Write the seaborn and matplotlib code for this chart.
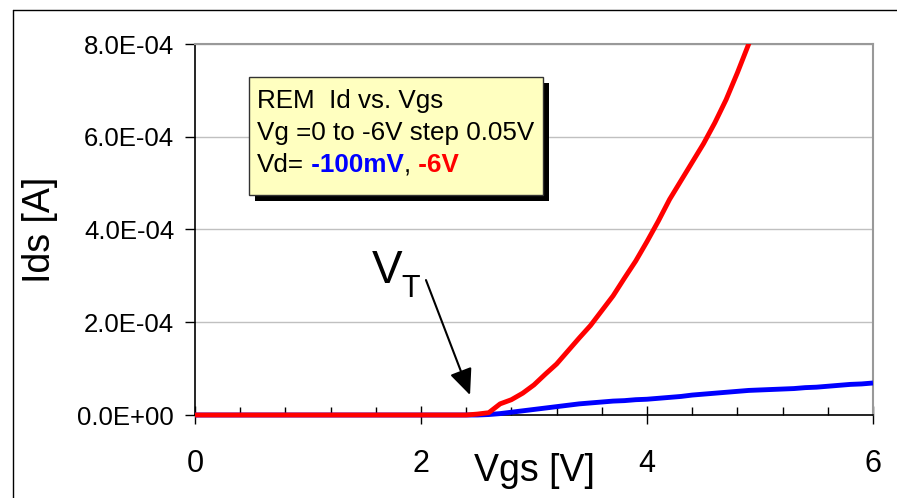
import matplotlib
matplotlib.use("Agg")
import matplotlib.pyplot as plt
import pandas as pd
import seaborn as sns
from matplotlib.ticker import MultipleLocator, FuncFormatter
from matplotlib.patches import Rectangle
from matplotlib.lines import Line2D
from matplotlib.text import Annotation

# Gate sweep (V) and drain current (A) for each drain bias
vgs_6v = [0.0, 2.4, 2.5, 2.6, 2.7, 2.8, 2.9, 3.0, 3.1, 3.2, 3.3, 3.4, 3.5, 3.6,
          3.7, 3.8, 3.9, 4.0, 4.1, 4.2, 4.3, 4.4, 4.5, 4.6, 4.7, 4.8, 4.9, 5.0]
ids_6v = [0.0, 0.0, 0.02e-4, 0.05e-4, 0.24e-4, 0.33e-4, 0.47e-4, 0.65e-4, 0.88e-4,
          1.10e-4, 1.38e-4, 1.66e-4, 1.93e-4, 2.25e-4, 2.57e-4, 2.95e-4, 3.32e-4,
          3.74e-4, 4.18e-4, 4.65e-4, 5.05e-4, 5.45e-4, 5.85e-4, 6.30e-4, 6.80e-4,
          7.38e-4, 8.00e-4, 8.55e-4]

vgs_100mv = [0.0, 2.5, 2.6, 2.7, 2.8, 2.9, 3.0, 3.1, 3.2, 3.3, 3.4, 3.5, 3.6, 3.7,
             3.8, 3.9, 4.0, 4.1, 4.2, 4.3, 4.4, 4.5, 4.6, 4.7, 4.8, 4.9, 5.0, 5.1,
             5.2, 5.3, 5.4, 5.5, 5.6, 5.7, 5.8, 5.9, 6.0]
ids_100mv = [0.0, 0.0, 0.01e-4, 0.03e-4, 0.06e-4, 0.09e-4, 0.12e-4, 0.15e-4, 0.18e-4,
             0.21e-4, 0.24e-4, 0.26e-4, 0.28e-4, 0.30e-4, 0.31e-4, 0.33e-4, 0.34e-4,
             0.36e-4, 0.38e-4, 0.40e-4, 0.43e-4, 0.45e-4, 0.47e-4, 0.49e-4, 0.51e-4,
             0.53e-4, 0.54e-4, 0.55e-4, 0.56e-4, 0.57e-4, 0.59e-4, 0.60e-4, 0.62e-4,
             0.64e-4, 0.66e-4, 0.67e-4, 0.69e-4]

vd_labels = ["-100mV", "-6V"]
vd_colors = {"-100mV": "#0000FF", "-6V": "#FF0000"}

df = pd.concat([
    pd.DataFrame({"Vgs": vgs_100mv, "Ids": ids_100mv, "Vd": "-100mV"}),
    pd.DataFrame({"Vgs": vgs_6v, "Ids": ids_6v, "Vd": "-6V"}),
], ignore_index=True)

sns.set_theme(style="white")
plt.rcParams["font.family"] = ["Liberation Sans", "DejaVu Sans"]
for key in ("text.color", "axes.labelcolor", "xtick.color", "ytick.color"):
    plt.rcParams[key] = "black"

W, H = 897, 498
fig = plt.figure(figsize=(W / 100, H / 100), dpi=100)
fig.patch.set_facecolor("white")


def fx(px):
    return px / W


def fy(py):
    return 1 - py / H


ax = fig.add_axes([fx(195), fy(415), fx(873) - fx(195), fy(44) - fy(415)])

sns.lineplot(data=df, x="Vgs", y="Ids", hue="Vd", hue_order=vd_labels,
             palette=vd_colors, linewidth=3.5, legend=False, sort=False,
             estimator=None, ax=ax)

# Let the traces sit fully on the zero line while still clipping at the top frame
clip_rect = Rectangle((0, -0.03), 1, 1.03, transform=ax.transAxes,
                      facecolor="none", edgecolor="none")
for ln in ax.get_lines():
    ln.set_clip_path(clip_rect)
    ln.set_zorder(3)
    ln.set_solid_capstyle("butt")

ax.set_xlim(0, 6)
ax.set_ylim(0, 8e-4)

ax.xaxis.set_major_locator(MultipleLocator(2))
ax.xaxis.set_minor_locator(MultipleLocator(0.4))
ax.yaxis.set_major_locator(MultipleLocator(2e-4))
ax.yaxis.set_major_formatter(FuncFormatter(lambda v, p: f"{v:.1E}"))

ax.tick_params(axis="x", which="major", direction="inout", length=13, width=1,
               color="black", labelsize=22, pad=18, bottom=True)
ax.tick_params(axis="x", which="minor", direction="in", length=6, width=1,
               color="black", bottom=True)
ax.tick_params(axis="y", which="major", direction="out", length=7, width=1,
               color="black", labelsize=18.5, pad=8, left=True)

ax.yaxis.grid(True, color="#c0c0c0", linewidth=1)
ax.xaxis.grid(False)
ax.set_axisbelow(True)

for side in ("top", "right"):
    ax.spines[side].set_color("#999999")
    ax.spines[side].set_linewidth(1.5)
for side in ("left", "bottom"):
    ax.spines[side].set_color("black")
    ax.spines[side].set_linewidth(1.2)

ax.set_xlabel("Vgs [V]", fontsize=27, va="center")
ax.xaxis.set_label_coords(0.5, -0.152)
ax.set_ylabel("Ids [A]", fontsize=27, va="center")
ax.yaxis.set_label_coords(-0.229, 0.5)

# Threshold-voltage marker
ax.text(1.566, 2.845e-4, "V", fontsize=33, va="baseline", ha="left")
ax.text(1.83, 2.54e-4, "T", fontsize=22, va="baseline", ha="left")
ax.annotate("", xy=(2.434, 0.43e-4), xytext=(2.044, 2.91e-4),
            arrowprops=dict(arrowstyle="-|>,head_length=0.8,head_width=0.35",
                            color="black", lw=1.5, mutation_scale=20,
                            shrinkA=0, shrinkB=0))

# Note box with drop shadow
bx0, by0, bx1, by1 = 249, 77, 543, 195
fig.add_artist(Rectangle((fx(bx0 + 6), fy(by1 + 6)), fx(bx1) - fx(bx0), fy(by0) - fy(by1),
                         transform=fig.transFigure, facecolor="black",
                         edgecolor="none", zorder=5))
fig.add_artist(Rectangle((fx(bx0), fy(by1)), fx(bx1) - fx(bx0), fy(by0) - fy(by1),
                         transform=fig.transFigure, facecolor="#FFFFC0",
                         edgecolor="#333333", linewidth=1, zorder=6))

note_size = 18.7
tx = fx(257)
fig.text(tx, fy(108), "REM  Id vs. Vgs", fontsize=note_size, va="baseline", zorder=7)
fig.text(tx, fy(140), "Vg =0 to -6V step 0.05V", fontsize=note_size, va="baseline", zorder=7)
t1 = fig.text(tx, fy(172), "Vd=", fontsize=note_size, va="baseline", zorder=7)

prev = t1
for piece, color, weight in [(" -100mV", vd_colors["-100mV"], "bold"),
                             (",", "black", "normal"),
                             (" -6V", vd_colors["-6V"], "bold")]:
    a = Annotation(piece, xy=(1, 0), xycoords=prev, ha="left", va="bottom",
                   fontsize=note_size, fontweight=weight, color=color)
    a.set_zorder(7)
    fig.add_artist(a)
    prev = a

# Outer frame
fig.add_artist(Line2D([fx(13), fx(13)], [0, fy(10)], transform=fig.transFigure,
                      color="black", linewidth=1))
fig.add_artist(Line2D([fx(13), 1], [fy(10), fy(10)], transform=fig.transFigure,
                      color="black", linewidth=1))

fig.savefig("out.png", dpi=100)
